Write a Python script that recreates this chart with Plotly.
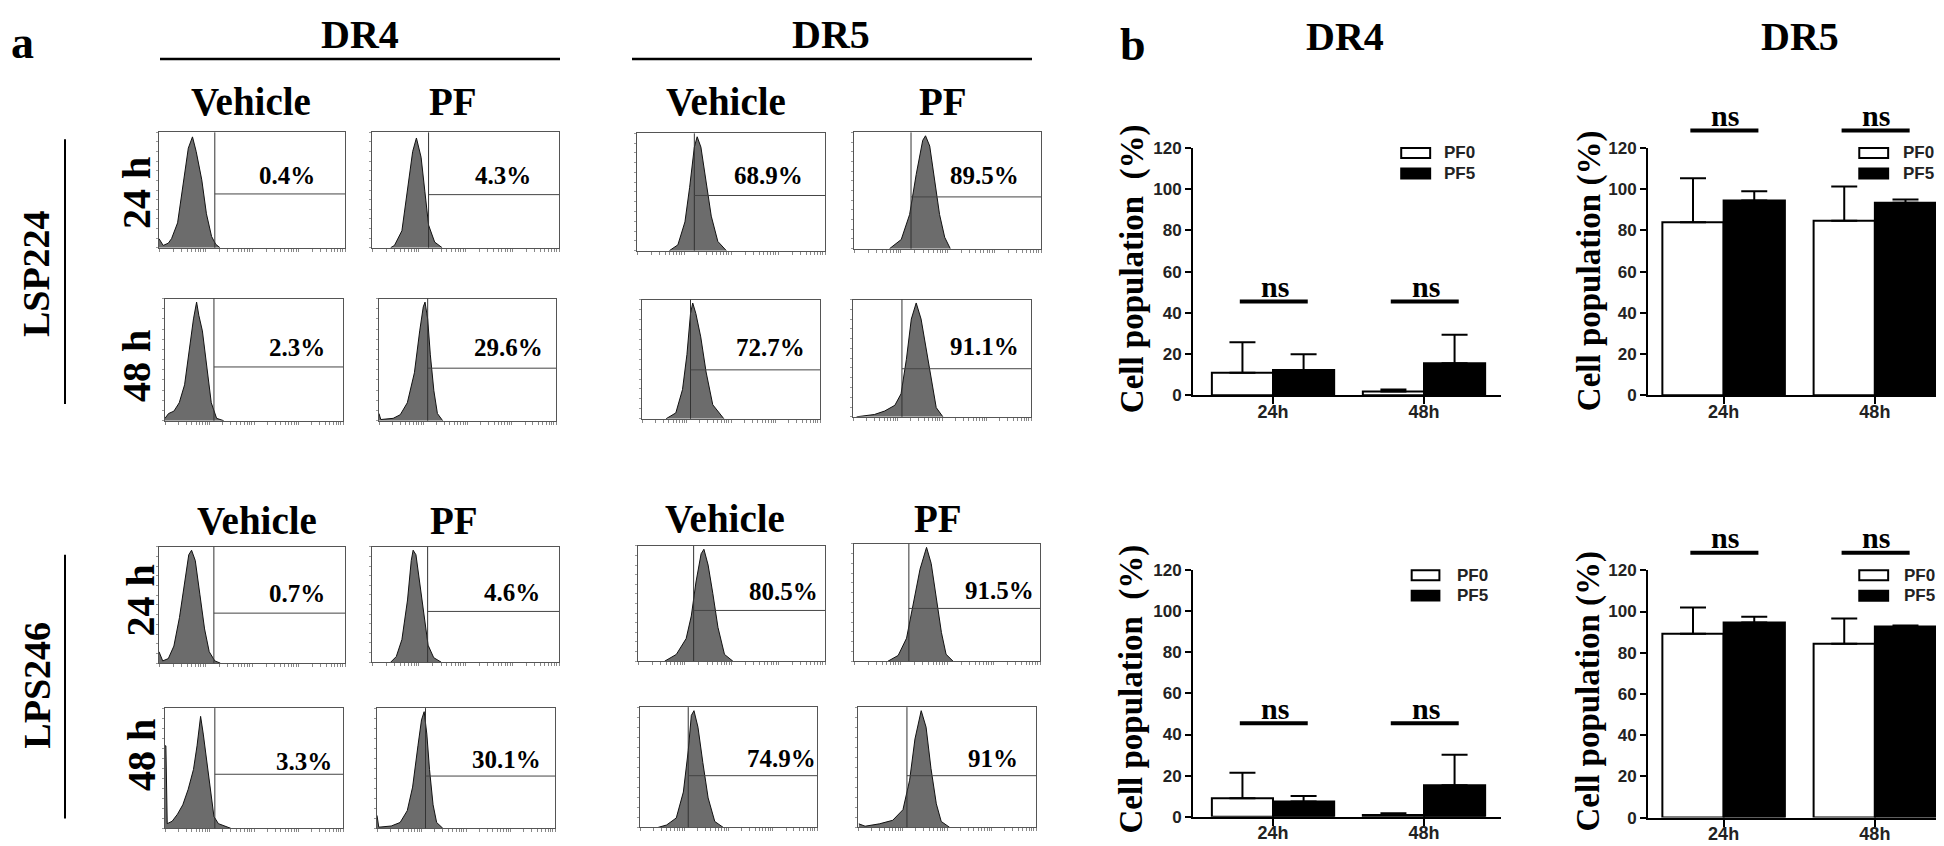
import math
import plotly.graph_objects as go

W, H = 1944, 846
SERIF = "Liberation Serif, Times New Roman, serif"
SANS = "Liberation Sans, Arial, Helvetica, sans-serif"

# ====================== DATA ======================
# Panel a: flow-cytometry histograms. x = log10 fluorescence (decades 0-4), y = relative count
# order: LSP224 DR4 Veh24, PF24, Veh48, PF48 | LSP224 DR5 ... | LPS246 DR4 ... | LPS246 DR5 ...
h01_x = [0, 0.09, 0.2, 0.27, 0.4, 0.52, 0.63, 0.72, 0.8, 0.92, 1.02, 1.13, 1.22, 1.31]
h01_y = [0.08, 0.02, 0.04, 0.08, 0.22, 0.55, 0.88, 0.98, 0.85, 0.6, 0.3, 0.1, 0.03, 0]
h02_x = [0.4, 0.48, 0.64, 0.76, 0.87, 0.95, 1.05, 1.13, 1.21, 1.34, 1.5]
h02_y = [0, 0.02, 0.15, 0.5, 0.85, 0.97, 0.8, 0.5, 0.2, 0.05, 0]
h03_x = [0, 0.08, 0.2, 0.32, 0.44, 0.56, 0.64, 0.71, 0.76, 0.84, 0.94, 1.04, 1.16, 1.32]
h03_y = [0.02, 0.06, 0.08, 0.15, 0.3, 0.65, 0.85, 0.99, 0.88, 0.75, 0.45, 0.15, 0.02, 0]
h04_x = [0, 0.04, 0.32, 0.48, 0.64, 0.8, 0.92, 1.0, 1.04, 1.1, 1.16, 1.24, 1.32, 1.44]
h04_y = [0.06, 0.01, 0.02, 0.05, 0.15, 0.4, 0.75, 0.95, 0.99, 0.85, 0.55, 0.25, 0.06, 0]
h05_x = [0.69, 0.87, 1.02, 1.12, 1.22, 1.28, 1.36, 1.47, 1.58, 1.72, 1.9]
h05_y = [0, 0.05, 0.25, 0.55, 0.9, 0.99, 0.9, 0.6, 0.3, 0.08, 0]
h06_x = [0.76, 1.01, 1.19, 1.33, 1.47, 1.53, 1.62, 1.72, 1.83, 1.94, 2.06]
h06_y = [0, 0.08, 0.3, 0.65, 0.95, 0.99, 0.9, 0.6, 0.3, 0.1, 0]
h07_x = [0.54, 0.76, 0.91, 1.01, 1.09, 1.14, 1.21, 1.32, 1.44, 1.59, 1.84]
h07_y = [0, 0.05, 0.25, 0.55, 0.9, 0.99, 0.9, 0.7, 0.4, 0.12, 0]
h08_x = [0.08, 0.48, 0.71, 0.94, 1.08, 1.2, 1.31, 1.42, 1.53, 1.64, 1.76, 1.87, 2.02]
h08_y = [0, 0.02, 0.05, 0.1, 0.2, 0.5, 0.85, 0.99, 0.85, 0.6, 0.3, 0.08, 0]
h09_x = [0, 0.08, 0.2, 0.32, 0.44, 0.56, 0.64, 0.7, 0.78, 0.88, 0.98, 1.08, 1.2, 1.32]
h09_y = [0.1, 0.02, 0.04, 0.15, 0.4, 0.75, 0.95, 0.99, 0.9, 0.6, 0.3, 0.1, 0.02, 0]
h10_x = [0.4, 0.52, 0.64, 0.76, 0.84, 0.88, 0.94, 1.02, 1.1, 1.2, 1.32, 1.48]
h10_y = [0, 0.05, 0.2, 0.55, 0.9, 0.99, 0.95, 0.7, 0.45, 0.15, 0.04, 0]
h11_x = [0, 0.02, 0.05, 0.16, 0.28, 0.4, 0.52, 0.64, 0.72, 0.8, 0.86, 0.94, 1.02, 1.1, 1.2, 1.32, 1.48]
h11_y = [0.7, 0.7, 0.04, 0.06, 0.12, 0.2, 0.33, 0.5, 0.7, 0.95, 0.8, 0.55, 0.3, 0.1, 0.04, 0.02, 0]
h12_x = [0, 0.04, 0.32, 0.52, 0.68, 0.8, 0.92, 1.0, 1.06, 1.12, 1.18, 1.26, 1.34, 1.48]
h12_y = [0.11, 0.01, 0.02, 0.05, 0.15, 0.35, 0.7, 0.92, 0.99, 0.8, 0.5, 0.2, 0.05, 0]
h13_x = [0.57, 0.82, 1.03, 1.14, 1.24, 1.35, 1.41, 1.5, 1.6, 1.71, 1.85, 2.03]
h13_y = [0, 0.06, 0.2, 0.4, 0.7, 0.95, 0.99, 0.85, 0.6, 0.3, 0.06, 0]
h14_x = [0.73, 0.95, 1.13, 1.27, 1.42, 1.56, 1.66, 1.77, 1.88, 1.98, 2.13]
h14_y = [0, 0.05, 0.2, 0.5, 0.8, 0.99, 0.85, 0.55, 0.25, 0.06, 0]
h15_x = [0.41, 0.6, 0.82, 0.98, 1.09, 1.16, 1.22, 1.31, 1.42, 1.54, 1.69, 1.88]
h15_y = [0, 0.02, 0.08, 0.3, 0.65, 0.95, 0.99, 0.85, 0.55, 0.25, 0.05, 0]
h16_x = [0.02, 0.16, 0.48, 0.78, 1.01, 1.16, 1.28, 1.42, 1.53, 1.64, 1.76, 1.87, 2.06]
h16_y = [0.03, 0.01, 0.03, 0.06, 0.15, 0.4, 0.75, 0.99, 0.85, 0.5, 0.2, 0.05, 0]

hist_x = [h01_x, h02_x, h03_x, h04_x, h05_x, h06_x, h07_x, h08_x,
          h09_x, h10_x, h11_x, h12_x, h13_x, h14_x, h15_x, h16_x]
hist_y = [h01_y, h02_y, h03_y, h04_y, h05_y, h06_y, h07_y, h08_y,
          h09_y, h10_y, h11_y, h12_y, h13_y, h14_y, h15_y, h16_y]
gate_pos = [1.2, 1.21, 1.1, 1.1, 1.22, 1.22, 1.09, 1.1,
            1.18, 1.19, 1.12, 1.09, 1.19, 1.18, 1.09, 1.1]
marker_level = [0.466, 0.46, 0.44, 0.43, 0.47, 0.445, 0.41, 0.41,
                0.43, 0.44, 0.45, 0.435, 0.44, 0.45, 0.43, 0.43]
pct_labels = ["0.4%", "4.3%", "2.3%", "29.6%", "68.9%", "89.5%", "72.7%", "91.1%",
              "0.7%", "4.6%", "3.3%", "30.1%", "80.5%", "91.5%", "74.9%", "91%"]

# Panel b: bar charts (mean, upper SD)
time_points = ["24h", "48h"]
series_names = ["PF0", "PF5"]
lsp_dr4_pf0 = [10.9, 1.8]
lsp_dr4_pf0_sd = [14.9, 1.0]
lsp_dr4_pf5 = [12.3, 15.6]
lsp_dr4_pf5_sd = [7.6, 13.8]
lsp_dr5_pf0 = [84.0, 84.7]
lsp_dr5_pf0_sd = [21.3, 16.6]
lsp_dr5_pf5 = [94.5, 93.4]
lsp_dr5_pf5_sd = [4.5, 1.6]
lps_dr4_pf0 = [9.0, 0.8]
lps_dr4_pf0_sd = [12.4, 0.8]
lps_dr4_pf5 = [7.4, 15.3]
lps_dr4_pf5_sd = [2.6, 14.8]
lps_dr5_pf0 = [89.2, 84.3]
lps_dr5_pf0_sd = [12.7, 12.3]
lps_dr5_pf5 = [94.7, 92.7]
lps_dr5_pf5_sd = [2.7, 0.5]
ns_level_dr4 = [45.5, 45.5]
ns_level_dr5 = [128.5, 128.5]
ns_text = "ns"

# ====================== LAYOUT GEOMETRY (pixels) ======================
hist_boxes = [(151, 337, 118, 236), (364, 551, 118, 236), (157, 335, 288, 413), (371, 548, 288, 413),
              (629, 817, 119, 239), (846, 1033, 118, 237), (634, 812, 289, 411), (845, 1023, 289, 409),
              (151, 337, 542, 661), (364, 551, 542, 660), (157, 335, 707, 830), (369, 547, 707, 830),
              (630, 817, 541, 659), (846, 1032, 539, 659), (632, 809, 706, 829), (850, 1028, 706, 829)]
hist_lbl = [(0.69, 0.63), (0.70, 0.63), (0.74, 0.6), (0.73, 0.6),
            (0.70, 0.64), (0.70, 0.63), (0.72, 0.6), (0.74, 0.6),
            (0.74, 0.6), (0.75, 0.6), (0.78, 0.56), (0.73, 0.57),
            (0.78, 0.6), (0.78, 0.6), (0.80, 0.57), (0.76, 0.57)]


def pxx(p):
    return p / W


def pxy(p):
    return 1 - p / H


fig = go.Figure()
layout = {}
shapes = []
annots = []

log_ticks = [math.log10(k * 10 ** n) for n in range(4) for k in range(1, 10)] + [4]

for i in range(16):
    k = i + 1
    xn, yn = ("x", "y") if k == 1 else (f"x{k}", f"y{k}")
    x0, x1, y0, y1 = hist_boxes[i]
    fig.add_trace(go.Scatter(
        x=hist_x[i], y=hist_y[i], mode="lines", fill="tozeroy",
        fillcolor="#6c6c6c", line=dict(color="#111111", width=1),
        xaxis=xn, yaxis=yn, showlegend=False, hoverinfo="skip"))
    layout["xaxis" if k == 1 else f"xaxis{k}"] = dict(
        domain=[pxx(x0), pxx(x1)], range=[0, 4], anchor=yn,
        showline=True, mirror=True, linecolor="#555555", linewidth=1,
        ticks="outside", ticklen=3, tickwidth=1, tickcolor="#888888",
        tickmode="array", tickvals=log_ticks, showticklabels=False,
        showgrid=False, zeroline=False, fixedrange=True)
    layout["yaxis" if k == 1 else f"yaxis{k}"] = dict(
        domain=[pxy(y1), pxy(y0)], range=[0, 1.02], anchor=xn,
        showline=True, mirror=True, linecolor="#555555", linewidth=1,
        ticks="outside", ticklen=2, tickwidth=1, tickcolor="#999999",
        tickmode="linear", tick0=0, dtick=0.085, showticklabels=False,
        showgrid=False, zeroline=False, fixedrange=True)
    shapes.append(dict(type="line", xref=xn, yref=f"{yn} domain",
                       x0=gate_pos[i], x1=gate_pos[i], y0=0, y1=1,
                       line=dict(color="#333333", width=1)))
    shapes.append(dict(type="line", xref=xn, yref=f"{yn} domain",
                       x0=gate_pos[i], x1=4, y0=marker_level[i], y1=marker_level[i],
                       line=dict(color="#444444", width=1)))
    lx, ly = hist_lbl[i]
    annots.append(dict(text="<b>%s</b>" % pct_labels[i], xref=f"{xn} domain", yref=f"{yn} domain",
                       x=lx, y=ly, showarrow=False, xanchor="center", yanchor="middle",
                       font=dict(family=SERIF, size=25, color="black")))

# ---- bar charts ----
bar_specs = [
    (lsp_dr4_pf0, lsp_dr4_pf0_sd, lsp_dr4_pf5, lsp_dr4_pf5_sd, (1185, 1493), (134, 387), -0.53,
     ns_level_dr4, (0.676, 0.77, 0.81), "Cell population \u00a0(%)", 1124, 258),
    (lsp_dr5_pf0, lsp_dr5_pf0_sd, lsp_dr5_pf5, lsp_dr5_pf5_sd, (1640, 1944), (134, 387), -0.5,
     ns_level_dr5, (0.695, 0.79, 0.832), "Cell population (%)", 1581, 260),
    (lps_dr4_pf0, lps_dr4_pf0_sd, lps_dr4_pf5, lps_dr4_pf5_sd, (1185, 1493), (566, 818), -0.53,
     ns_level_dr4, (0.71, 0.80, 0.85), "Cell population \u00a0(%)", 1124, 688),
    (lps_dr5_pf0, lps_dr5_pf0_sd, lps_dr5_pf5, lps_dr5_pf5_sd, (1640, 1944), (566, 819), -0.5,
     ns_level_dr5, (0.695, 0.79, 0.835), "Cell population (%)", 1581, 690),
]

TICKFONT = dict(family=SANS, size=17, color="#222222", weight="bold")

for j, spec in enumerate(bar_specs):
    pf0, pf0sd, pf5, pf5sd, (bx0, bx1), (by0, by1), xmin, nsl, (lg0, lg1, lgt), ytitle, tx, ty = spec
    k = 17 + j
    xn, yn = f"x{k}", f"y{k}"
    fig.add_trace(go.Bar(
        x=time_points, y=pf0, name=series_names[0], xaxis=xn, yaxis=yn,
        marker=dict(color="white", line=dict(color="black", width=2)),
        error_y=dict(type="data", symmetric=False, array=pf0sd, arrayminus=[0] * len(pf0),
                     color="black", thickness=2, width=13),
        showlegend=False, hoverinfo="skip"))
    fig.add_trace(go.Bar(
        x=time_points, y=pf5, name=series_names[1], xaxis=xn, yaxis=yn,
        marker=dict(color="black", line=dict(color="black", width=2)),
        error_y=dict(type="data", symmetric=False, array=pf5sd, arrayminus=[0] * len(pf5),
                     color="black", thickness=2, width=13),
        showlegend=False, hoverinfo="skip"))
    layout[f"xaxis{k}"] = dict(
        domain=[pxx(bx0), pxx(bx1)], anchor=yn, type="category", range=[xmin, 1.51],
        showline=True, linecolor="black", linewidth=2, ticks="outside", ticklen=7,
        tickwidth=2, tickcolor="black", showgrid=False, zeroline=False,
        ticklabelstandoff=-8, tickfont=dict(TICKFONT, size=18), fixedrange=True)
    layout[f"yaxis{k}"] = dict(
        domain=[pxy(by1), pxy(by0)], anchor=xn, range=[0, 120], dtick=20, tick0=0,
        showline=True, linecolor="black", linewidth=2, ticks="outside", ticklen=6,
        tickwidth=2, tickcolor="black", showgrid=False, zeroline=False,
        tickfont=TICKFONT, fixedrange=True)
    for s, (ya, yb, fc) in enumerate([(0.96, 1.0, "white"), (0.877, 0.917, "black")]):
        shapes.append(dict(type="rect", xref=f"{xn} domain", yref=f"{yn} domain",
                           x0=lg0, x1=lg1, y0=ya, y1=yb, fillcolor=fc,
                           line=dict(color="black", width=2)))
        annots.append(dict(text="<b>%s</b>" % series_names[s], xref=f"{xn} domain", yref=f"{yn} domain",
                           x=lgt, y=(ya + yb) / 2, xanchor="left", yanchor="middle", showarrow=False,
                           font=dict(family=SANS, size=17, color="#222222")))
    for g in range(len(time_points)):
        xc = g
        shapes.append(dict(type="line", xref=xn, yref=f"{yn} domain",
                           x0=xc - 0.22, x1=xc + 0.23, y0=nsl[g] / 120, y1=nsl[g] / 120,
                           line=dict(color="black", width=4)))
        annots.append(dict(text="<b>%s</b>" % ns_text, xref=xn, yref=f"{yn} domain",
                           x=xc + 0.01, y=nsl[g] / 120, yshift=15, xanchor="center", yanchor="middle",
                           showarrow=False, font=dict(family=SERIF, size=30, color="black")))
    annots.append(dict(text="<b>%s</b>" % ytitle, xref="paper", yref="paper", x=pxx(tx), y=pxy(ty),
                       textangle=-90, showarrow=False, xanchor="center", yanchor="middle",
                       font=dict(family=SERIF, size=33, color="black")))


def label(text, x, y, size, angle=0):
    annots.append(dict(text="<b>%s</b>" % text, xref="paper", yref="paper", x=pxx(x), y=pxy(y),
                       showarrow=False, xanchor="center", yanchor="middle", textangle=angle,
                       font=dict(family=SERIF, size=size, color="black")))


label("a", 14, 26, 46)
label("b", 1125, 28, 46)
label("DR4", 352, 18, 40)
label("DR5", 823, 18, 40)
label("DR4", 1337, 20, 40)
label("DR5", 1792, 20, 40)
for (vx, px_, yy) in [(243, 445, 86), (718, 935, 86), (249, 446, 515), (717, 930, 513)]:
    label("Vehicle", vx, yy, 39)
    label("PF", px_, yy, 39)
label("LSP224", 28, 263, 38, -90)
label("LPS246", 29, 684, 38, -90)
label("24 h", 129, 180, 40, -90)
label("48 h", 129, 357, 40, -90)
label("24 h", 133, 597, 40, -90)
label("48 h", 133, 755, 40, -90)

for (a, b) in [(152, 552), (624, 1024)]:
    shapes.append(dict(type="line", xref="paper", yref="paper", x0=pxx(a), x1=pxx(b),
                       y0=pxy(43), y1=pxy(43), line=dict(color="black", width=2.5)))
for (a, b) in [(125, 396), (550, 820)]:
    shapes.append(dict(type="line", xref="paper", yref="paper", x0=pxx(57), x1=pxx(57),
                       y0=pxy(a), y1=pxy(b), line=dict(color="black", width=2)))

fig.update_layout(
    width=W, height=H, autosize=False,
    margin=dict(l=0, r=0, t=0, b=0, pad=0),
    paper_bgcolor="white", plot_bgcolor="white",
    barmode="group", bargap=0.19, bargroupgap=0,
    shapes=shapes, annotations=annots, showlegend=False,
    **layout)

fig.write_html("out.html")
